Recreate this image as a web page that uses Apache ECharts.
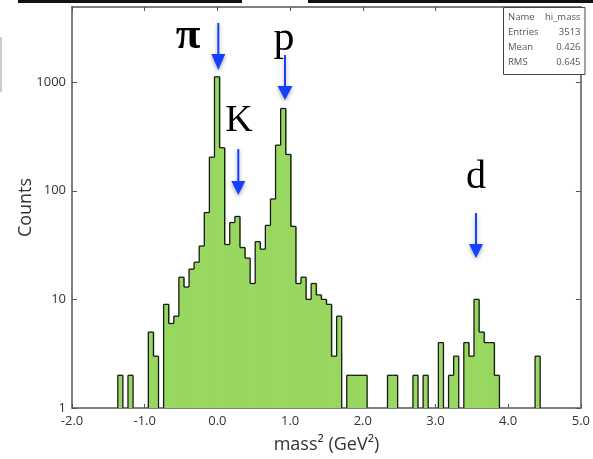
<!DOCTYPE html>
<html>
<head>
<meta charset="utf-8">
<script src="https://cdn.jsdelivr.net/npm/echarts@6/dist/echarts.min.js"></script>
<style>
html,body{margin:0;padding:0;background:#fff;}
#chart{width:593px;height:459px;}
</style>
</head>
<body>
<div id="chart"></div>
<script>
// ---- data ----
const binLow = -2.0;      // first bin edge (GeV^2)
const binWidth = 0.07;    // 100 bins from -2 to 5
const counts = [
  0,0,0,0,0,0,0,0,0,2,
  0,2,0,0,0,5,3,0,9,6,
  7,16,13,19,22,31,63,204,1120,249,
  32,51,58,30,24,14,34,29,48,84,
  263,572,216,47,14,16,10,14,11,10,
  9,3,7,0,2,2,2,2,0,0,
  0,0,2,2,0,0,0,2,0,2,
  0,0,4,0,2,3,0,4,3,10,
  5,4,4,2,0,0,0,0,0,0,
  0,3,0,0,0,0,0,0,0,0
];
const xTicks = [-2, -1, 0, 1, 2, 3, 4, 5];
const statNames = ['Name', 'Entries', 'Mean', 'RMS'];
const statValues = ['hi_mass', '3513', '0.426', '0.645'];
const particleLabels = ['π', 'K', 'p', 'd'];

// ---- build series data ----
const histData = counts.map((c, i) => {
  const lo = binLow + i * binWidth;
  return [lo, lo + binWidth, c, i > 0 ? counts[i - 1] : 0];
});

const GREEN = '#98d760';
const EDGE = '#1a1a1a';
const AXC = '#555';
const FONT = '"Open Sans", sans-serif';

function fillItem(params, api) {
  const c = api.value(2);
  if (!(c > 0)) return null;
  const pL = api.coord([api.value(0), c]);
  const pR = api.coord([api.value(1), c]);
  const base = api.coord([api.value(0), 1])[1];
  const nextFilled = params.dataIndex + 1 < counts.length && counts[params.dataIndex + 1] > 0;
  return { type: 'rect', shape: { x: pL[0], y: pL[1], width: pR[0] - pL[0] + (nextFilled ? 1 : 0), height: base - pL[1] },
           style: { fill: GREEN } };
}
function edgeItem(params, api) {
  const c = api.value(2), prev = api.value(3);
  const children = [];
  const cc = Math.max(c, 1), pp = Math.max(prev, 1);
  const pL = api.coord([api.value(0), cc]);
  const pR = api.coord([api.value(1), cc]);
  const yPrev = api.coord([api.value(0), pp])[1];
  const st = { stroke: EDGE, lineWidth: 1.3 };
  if (c > 0) children.push({ type: 'line', shape: { x1: pL[0], y1: pL[1], x2: pR[0], y2: pR[1] }, style: st });
  if (c > 0 || prev > 0) children.push({ type: 'line', shape: { x1: pL[0], y1: yPrev, x2: pL[0], y2: pL[1] }, style: st });
  return { type: 'group', children };
}

const chart = echarts.init(document.getElementById('chart'), null, { renderer: 'canvas' });

// arrows (annotation graphics)
const BLUE = '#1440ff';
function arrow(x, y0, y1, headLen, headHalf) {
  return {
    type: 'group', z: 100,
    children: [
      { type: 'line', shape: { x1: x, y1: y0, x2: x, y2: y1 - headLen + 1 },
        style: { stroke: BLUE, lineWidth: 2, shadowBlur: 4, shadowColor: 'rgba(0,0,0,0.35)', shadowOffsetY: 2 } },
      { type: 'polygon', shape: { points: [[x - headHalf, y1 - headLen], [x + headHalf, y1 - headLen], [x, y1]] },
        style: { fill: BLUE, shadowBlur: 4, shadowColor: 'rgba(0,0,0,0.35)', shadowOffsetY: 2 } }
    ]
  };
}
function bigText(t, x, y, size, bold) {
  return { type: 'text', x: x, y: y, z: 100,
    style: { text: t, fill: '#000', font: (bold ? 'bold ' : '') + size + 'px "Liberation Serif", serif',
             align: 'center', verticalAlign: 'middle' } };
}

const graphics = [
  // crop artifacts at the very top / left of the reference
  { type: 'rect', shape: { x: 18, y: 0, width: 224, height: 3 }, style: { fill: '#111' } },
  { type: 'rect', shape: { x: 308, y: 0, width: 285, height: 3 }, style: { fill: '#111' } },
  { type: 'line', shape: { x1: 1, y1: 37, x2: 1, y2: 92 }, style: { stroke: '#bbb', lineWidth: 1.5 } },
  // particle labels and arrows
  bigText(particleLabels[0], 188, 36, 45, true),
  bigText(particleLabels[2], 284, 39, 42, false),
  bigText(particleLabels[1], 239, 121, 38, false),
  bigText(particleLabels[3], 476, 177, 40, false),
  arrow(218.3, 23, 70, 16, 7),
  arrow(285, 55, 100, 14, 7.5),
  arrow(238.3, 149, 195, 14, 7),
  arrow(476, 213, 258, 14, 7),
  // stats box
  { type: 'rect', z: 90, shape: { x: 503.5, y: 7.5, width: 81.5, height: 67 },
    style: { fill: '#fff', stroke: '#444', lineWidth: 1 } }
];
const rowY = [17.7, 32.7, 47.3, 62];
statNames.forEach((n, k) => {
  graphics.push({ type: 'text', z: 91, x: 508, y: rowY[k],
    style: { text: n, fill: '#555', font: '9.5px ' + FONT, align: 'left', verticalAlign: 'middle' } });
  graphics.push({ type: 'text', z: 91, x: 580.5, y: rowY[k],
    style: { text: statValues[k], fill: '#555', font: '9.5px ' + FONT, align: 'right', verticalAlign: 'middle' } });
});

const xCommon = {
  type: 'value', min: xTicks[0], max: xTicks[xTicks.length - 1], interval: 1,
  splitLine: { show: false },
  axisLine: { show: true, onZero: false, lineStyle: { color: AXC, width: 1.5 } },
  axisTick: { show: true, inside: true, length: 4, lineStyle: { color: AXC, width: 1 } }
};
const yCommon = {
  type: 'log', logBase: 10, min: 1, max: 4920,
  splitLine: { show: false }, minorTick: { show: false },
  axisLine: { show: true, onZero: false, lineStyle: { color: AXC, width: 1.5 } },
  axisTick: { show: true, inside: true, length: 5, lineStyle: { color: AXC, width: 1 } }
};

chart.setOption({
  animation: false,
  backgroundColor: '#fff',
  grid: { left: 72, right: 8, top: 7, bottom: 50, containLabel: false },
  xAxis: [
    Object.assign({}, xCommon, {
      position: 'bottom',
      axisLabel: { show: true, color: '#333', fontFamily: FONT, fontSize: 13, margin: 7,
                   formatter: v => v.toFixed(1) },
      name: 'mass² (GeV²)', nameLocation: 'middle', nameGap: 28, nameMoveOverlap: false,
      nameTextStyle: { color: '#333', fontFamily: FONT, fontSize: 18 }
    }),
    Object.assign({}, xCommon, { position: 'top', axisLabel: { show: false } })
  ],
  yAxis: [
    Object.assign({}, yCommon, {
      position: 'left',
      axisLabel: { show: true, color: '#333', fontFamily: FONT, fontSize: 13, margin: 6, showMaxLabel: false,
                   formatter: v => String(Math.round(v)) },
      name: 'Counts', nameLocation: 'middle', nameGap: 37, nameMoveOverlap: false,
      nameTextStyle: { color: '#333', fontFamily: FONT, fontSize: 18 }
    }),
    Object.assign({}, yCommon, { position: 'right', axisLabel: { show: false } })
  ],
  series: [
    { type: 'custom', name: 'fill', xAxisIndex: 0, yAxisIndex: 0, data: histData,
      encode: { x: [0, 1], y: 2 }, renderItem: fillItem, z: 2, silent: true },
    { type: 'custom', name: 'edge', xAxisIndex: 0, yAxisIndex: 0, data: histData,
      encode: { x: [0, 1], y: 2 }, renderItem: edgeItem, z: 3, silent: true }
  ],
  graphic: graphics
});
</script>
</body>
</html>
